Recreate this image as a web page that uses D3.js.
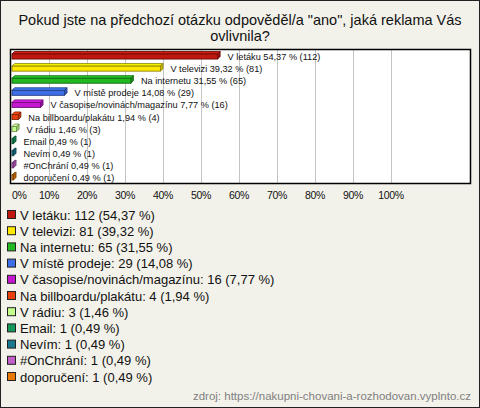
<!DOCTYPE html>
<html><head><meta charset="utf-8">
<script src="https://cdn.jsdelivr.net/npm/d3@7/dist/d3.min.js"></script>
<style>html,body{margin:0;padding:0;background:#f3f2ea;}svg{display:block;}</style>
</head><body>
<script>
const categories = ["V letáku","V televizi","Na internetu","V místě prodeje","V časopise/novinách/magazínu","Na billboardu/plakátu","V rádiu","Email","Nevím","#OnChrání","doporučení"];
const counts = [112,81,65,29,16,4,3,1,1,1,1];
const percents = [54.37,39.32,31.55,14.08,7.77,1.94,1.46,0.49,0.49,0.49,0.49];
const colors = ["#c0170f","#ffe800","#22b822","#3d6ee8","#c318d0","#e8400c","#c4ff8c","#14985a","#1a7890","#c060c8","#e87a00"];
const tickLabels = ["0%","10%","20%","30%","40%","50%","60%","70%","80%","90%","100%"];
const titleLines = ["Pokud jste na předchozí otázku odpověděl/a \"ano\", jaká reklama Vás","ovlivnila?"];
const source = "zdroj: https://nakupni-chovani-a-rozhodovan.vyplnto.cz";

const W=480,H=408;
const svg=d3.select("body").append("svg").attr("width",W).attr("height",H).style("font-family","'Liberation Sans',Arial,sans-serif");
svg.append("rect").attr("x",0.5).attr("y",0.5).attr("width",W-1).attr("height",H-1).attr("fill","#f3f2ea").attr("stroke","#222");

svg.selectAll("text.title").data(titleLines).enter().append("text")
 .attr("x",240).attr("y",(d,i)=>25+i*16).attr("text-anchor","middle").attr("font-size",14.5).attr("fill","#111").text(d=>d);

const px0=11,px1=470,py0=50,py1=183;
const x=d3.scaleLinear().domain([0,100]).range([11,391]);
const y=d3.scaleBand().domain(categories).range([py0,py1]);

svg.append("rect").attr("x",px0).attr("y",py0).attr("width",px1-px0).attr("height",py1-py0).attr("fill","#fff");
const ticks=d3.range(0,101,10);
svg.selectAll("line.grid").data(ticks.slice(1)).enter().append("line")
 .attr("x1",d=>Math.round(x(d))+0.5).attr("x2",d=>Math.round(x(d))+0.5).attr("y1",py0).attr("y2",py1).attr("stroke","#c4c4c4");

const g=svg.append("g");
categories.forEach((c,i)=>{
  const cy=y(c)+y.bandwidth()/2+0.5;
  const x0=x(0)+1, x1=Math.max(x(percents[i]),x0+1.5);
  const d=2.5, top=cy-2.5, bot=cy+2.5;
  const col=d3.color(colors[i]);
  const dark=col.darker(1.6).toString();
  g.append("polygon").attr("points",`${x0},${top} ${x0+d},${top-d} ${x1+d},${top-d} ${x1},${top}`).attr("fill",col.brighter(0.4)).attr("stroke",dark).attr("stroke-width",0.9);
  g.append("polygon").attr("points",`${x1},${top} ${x1+d},${top-d} ${x1+d},${bot-d} ${x1},${bot}`).attr("fill",col.darker(0.6)).attr("stroke",dark).attr("stroke-width",0.9);
  g.append("rect").attr("x",x0).attr("y",top).attr("width",x1-x0).attr("height",bot-top).attr("fill",colors[i]).attr("stroke",dark).attr("stroke-width",0.9);
  g.append("text").attr("x",x1+10).attr("y",cy+3.5).attr("font-size",9.2).attr("fill","#111")
   .text(`${c} ${percents[i].toFixed(2).replace(".",",")} % (${counts[i]})`);
});

svg.append("rect").attr("x",px0-0.5).attr("y",py0-0.5).attr("width",px1-px0+1).attr("height",py1-py0+1).attr("fill","none").attr("stroke","#000").attr("stroke-width",1.5);

svg.selectAll("text.tick").data(ticks).enter().append("text")
 .attr("x",d=>d===0?12:x(d)).attr("y",199).attr("text-anchor",d=>d===0?"start":"middle")
 .attr("font-size",10.5).attr("fill","#111").attr("letter-spacing",-0.4).text((d,i)=>tickLabels[i]);

const leg=svg.append("g");
categories.forEach((c,i)=>{
  const ly=215+i*16.2;
  leg.append("rect").attr("x",7.5).attr("y",ly-4.5).attr("width",8).attr("height",8).attr("fill",colors[i]).attr("stroke","#222");
  leg.append("text").attr("x",20).attr("y",ly+4.5).attr("font-size",13).attr("fill","#111")
   .text(`${c}: ${counts[i]} (${percents[i].toFixed(2).replace(".",",")} %)`);
});

svg.append("text").attr("x",471).attr("y",400).attr("text-anchor","end").attr("font-size",11.5).attr("fill","#808080").text(source);
</script>
</body></html>
